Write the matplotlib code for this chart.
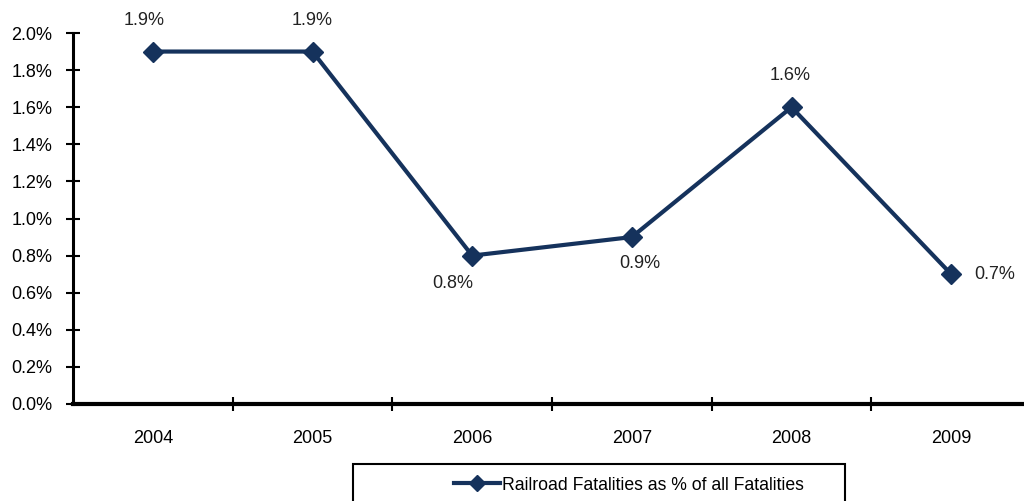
import matplotlib.pyplot as plt
from matplotlib.patches import Rectangle

years = ["2004", "2005", "2006", "2007", "2008", "2009"]
share = [1.9, 1.9, 0.8, 0.9, 1.6, 0.7]
labels = ["1.9%", "1.9%", "0.8%", "0.9%", "1.6%", "0.7%"]
yticks = [0.0, 0.2, 0.4, 0.6, 0.8, 1.0, 1.2, 1.4, 1.6, 1.8, 2.0]

navy = "#15325C"
plt.rcParams['font.family'] = ['Liberation Sans', 'DejaVu Sans']

W, H = 1024, 501
fig = plt.figure(figsize=(W / 100, H / 100), dpi=100)
ax = fig.add_axes([73 / W, (H - 404) / H, (1031 - 73) / W, (404 - 33) / H])

x = range(len(years))
ax.plot(x, share, color=navy, lw=3, marker="D", ms=10.5, mec=navy, mfc=navy,
        label="Railroad Fatalities as % of all Fatalities", clip_on=False)

# data labels (offsets in points)
offsets = [(-6, 22), (0, 22), (-14, -20), (6, -19), (-1, 23), (31, 0)]
for i, (lab, off) in enumerate(zip(labels, offsets)):
    ax.annotate(lab, (i, share[i]), xytext=off, textcoords="offset points",
                ha="center", va="center", fontsize=13, color="#222222")

ax.set_xlim(-0.5, len(years) - 0.5)
ax.set_ylim(0, 2.0)
ax.set_yticks(yticks)
ax.set_yticklabels([f"{v:.1f}%" for v in yticks])
ax.set_xticks([i + 0.5 for i in range(len(years) - 1)])
ax.set_xticklabels([])
ax.set_xticks(list(x), minor=True)
ax.set_xticklabels(years, minor=True)
ax.tick_params(axis="x", which="minor", length=0, pad=19, labelsize=13)
ax.tick_params(axis="x", which="major", direction="inout", length=10, width=1.5)
ax.tick_params(axis="y", direction="inout", length=10, width=1.5, labelsize=13, pad=10)

for s in ["top", "right"]:
    ax.spines[s].set_visible(False)
ax.spines["left"].set_linewidth(2.2)
ax.spines["bottom"].set_linewidth(3)

# legend box (runs off the bottom of the image)
fig.patches.append(Rectangle((353 / W, -0.05), (845 - 353) / W, (H - 464) / H + 0.05,
                             transform=fig.transFigure, fill=False, ec="black", lw=1.5))
fig.legend(loc="center", bbox_to_anchor=(629 / W, (H - 485) / H), frameon=False,
           fontsize=12.7, handlelength=2.6, handletextpad=0.1, markerscale=0.8)

fig.savefig("out.png", dpi=100)
